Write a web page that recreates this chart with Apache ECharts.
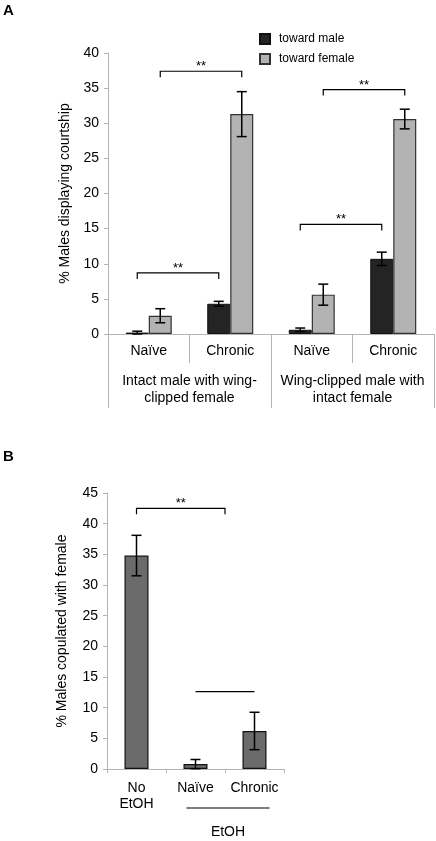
<!DOCTYPE html>
<html>
<head>
<meta charset="utf-8">
<script src="https://cdn.jsdelivr.net/npm/echarts@6/dist/echarts.min.js"></script>
<style>html,body{margin:0;padding:0;background:#fff;}#c{width:436px;height:841px;}</style>
</head>
<body>
<div id="c"></div>
<script>
// ---------- Panel A data ----------
const subCatsA = ['Naïve', 'Chronic', 'Naïve', 'Chronic'];
const groupCatsA = ['Intact male with wing-\nclipped female', 'Wing-clipped male with\nintact female'];
const maleA = [0.2, 4.3, 0.6, 10.7];
const maleErrA = [0.2, 0.35, 0.25, 0.95];
const femaleA = [2.6, 31.3, 5.6, 30.6];
const femaleErrA = [1.0, 3.2, 1.5, 1.4];
// [fromCategory, fromSeries(0 male / 1 female), toCategory, toSeries, y, label]
const bracketsA = [
  [0, 0, 1, 0, 8.7, '**'],
  [0, 1, 1, 1, 37.4, '**'],
  [2, 0, 3, 0, 15.6, '**'],
  [2, 1, 3, 1, 34.8, '**']
];
// ---------- Panel B data ----------
const catsB = ['No\nEtOH', 'Naïve', 'Chronic'];
const valuesB = [34.8, 0.8, 6.2];
const errB = [3.3, 0.75, 3.05];
// [fromCategoryPos, toCategoryPos, y, label, hasEndTicks]
const bracketsB = [
  [0, 1.5, 42.5, '**', 1],
  [1, 2, 12.6, '', 0]
];
// [fromCategory, toCategory, label]
const groupB = [[1, 2, 'EtOH']];

const FONT = 'Liberation Sans, Arial, sans-serif';
const AX = '#b4b4b4';
const BW_A = 23, BW_B = 24;

function catX(api, v) {
  const a = Math.floor(v), b = Math.ceil(v);
  const xa = api.coord([a, 0])[0];
  if (a === b) return xa;
  const xb = api.coord([b, 0])[0];
  return xa + (xb - xa) * (v - a);
}

function errRender(offset) {
  return function (params, api) {
    const x = api.coord([api.value(0), 0])[0] + offset;
    const v = api.value(1), e = api.value(2);
    const yHi = api.coord([api.value(0), v + e])[1];
    const yLo = api.coord([api.value(0), Math.max(0, v - e)])[1];
    const st = { stroke: '#000', lineWidth: 1.5 };
    return { type: 'group', children: [
      { type: 'line', shape: { x1: x, y1: yHi, x2: x, y2: yLo }, style: st },
      { type: 'line', shape: { x1: x - 5, y1: yHi, x2: x + 5, y2: yHi }, style: st },
      { type: 'line', shape: { x1: x - 5, y1: yLo, x2: x + 5, y2: yLo }, style: st }
    ]};
  };
}

function starText(x, y, txt) {
  return { type: 'text', x: x, y: y + 2, style: { text: txt, fontSize: 13, fontFamily: FONT, fill: '#000', align: 'center', verticalAlign: 'bottom' } };
}

function bracketARender(params, api) {
  const x1 = api.coord([api.value(0), 0])[0] + (api.value(1) ? 1 : -1) * BW_A / 2;
  const x2 = api.coord([api.value(2), 0])[0] + (api.value(3) ? 1 : -1) * BW_A / 2;
  const y = api.coord([0, api.value(4)])[1];
  const st = { stroke: '#000', lineWidth: 1.2, fill: null };
  return { type: 'group', children: [
    { type: 'polyline', shape: { points: [[x1, y + 6], [x1, y], [x2, y], [x2, y + 6]] }, style: st },
    starText((x1 + x2) / 2, y, bracketsA[params.dataIndex][5])
  ]};
}

function bracketBRender(params, api) {
  const x1 = catX(api, api.value(0));
  const x2 = catX(api, api.value(1));
  const y = api.coord([0, api.value(2)])[1];
  const b = bracketsB[params.dataIndex];
  const st = { stroke: '#000', lineWidth: 1.2, fill: null };
  const pts = b[4] ? [[x1, y + 6], [x1, y], [x2, y], [x2, y + 6]] : [[x1, y], [x2, y]];
  const ch = [{ type: 'polyline', shape: { points: pts }, style: st }];
  if (b[3]) ch.push(starText((x1 + x2) / 2, y, b[3]));
  return { type: 'group', children: ch };
}

function groupBRender(params, api) {
  const x1 = api.coord([api.value(0), 0])[0] - 9;
  const x2 = api.coord([api.value(1), 0])[0] + 15;
  const y0 = api.coord([0, 0])[1];
  const g = groupB[params.dataIndex];
  return { type: 'group', children: [
    { type: 'line', shape: { x1: x1, y1: y0 + 39, x2: x2, y2: y0 + 39 }, style: { stroke: '#000', lineWidth: 1.2 } },
    { type: 'text', x: (x1 + x2) / 2, y: y0 + 63, style: { text: g[2], fontSize: 14, fontFamily: FONT, fill: '#000', align: 'center', verticalAlign: 'middle' } }
  ]};
}

const chart = echarts.init(document.getElementById('c'), null, { renderer: 'canvas' });
const yAxisCommon = {
  type: 'value', min: 0, interval: 5,
  axisLine: { show: true, lineStyle: { color: AX, width: 1 } },
  axisTick: { show: true, length: 4, lineStyle: { color: AX } },
  axisLabel: { fontSize: 14, color: '#000', fontFamily: FONT, margin: 9 },
  splitLine: { show: false },
  nameLocation: 'middle',
  nameTextStyle: { fontSize: 14, color: '#000', fontFamily: FONT }
};

chart.setOption({
  animation: false,
  backgroundColor: '#fff',
  textStyle: { fontFamily: FONT },
  title: [
    { text: 'A', left: 3, top: 3, padding: 0, textStyle: { fontSize: 15, fontWeight: 'bold', color: '#000', fontFamily: FONT } },
    { text: 'B', left: 3, top: 449, padding: 0, textStyle: { fontSize: 15, fontWeight: 'bold', color: '#000', fontFamily: FONT } }
  ],
  legend: {
    data: ['toward male', 'toward female'],
    orient: 'vertical', left: 259, top: 33, padding: 0,
    itemWidth: 10, itemHeight: 10, itemGap: 8, icon: 'rect',
    textStyle: { fontSize: 12, color: '#000', fontFamily: FONT, padding: [0, 0, 0, 4] }
  },
  grid: [
    { left: 108, top: 53, width: 326, height: 281 },
    { left: 107, top: 493, width: 177, height: 276 }
  ],
  xAxis: [
    { gridIndex: 0, type: 'category', data: subCatsA, position: 'bottom', offset: 0,
      axisLine: { lineStyle: { color: AX } },
      axisTick: { show: true, length: 29, interval: 0, lineStyle: { color: AX } },
      axisLabel: { fontSize: 14, color: '#000', fontFamily: FONT, margin: 10, interval: 0 } },
    { gridIndex: 0, type: 'category', data: groupCatsA, position: 'bottom', offset: 0,
      axisLine: { show: false },
      axisTick: { show: true, length: 74, interval: 0, lineStyle: { color: AX } },
      axisLabel: { fontSize: 14, color: '#000', fontFamily: FONT, margin: 39, lineHeight: 17, interval: 0 } },
    { gridIndex: 1, type: 'category', data: catsB, position: 'bottom',
      axisLine: { lineStyle: { color: AX } },
      axisTick: { show: true, length: 4, interval: 0, lineStyle: { color: AX } },
      axisLabel: { fontSize: 14, color: '#000', fontFamily: FONT, margin: 11, lineHeight: 16, interval: 0 } }
  ],
  yAxis: [
    Object.assign({}, yAxisCommon, { gridIndex: 0, max: 40, name: '% Males displaying courtship', nameGap: 34 }),
    Object.assign({}, yAxisCommon, { gridIndex: 1, max: 45, name: '% Males copulated with female', nameGap: 38 })
  ],
  series: [
    { name: 'toward male', type: 'bar', xAxisIndex: 0, yAxisIndex: 0, data: maleA, barWidth: BW_A, barGap: '0%',
      itemStyle: { color: '#242424', borderColor: '#111', borderWidth: 1 } },
    { name: 'toward female', type: 'bar', xAxisIndex: 0, yAxisIndex: 0, data: femaleA, barWidth: BW_A, barGap: '0%',
      itemStyle: { color: '#b3b3b3', borderColor: '#333', borderWidth: 1.2 } },
    { name: 'errMale', type: 'custom', xAxisIndex: 0, yAxisIndex: 0, renderItem: errRender(-BW_A / 2),
      data: maleA.map((v, i) => [i, v, maleErrA[i]]), z: 5 },
    { name: 'errFemale', type: 'custom', xAxisIndex: 0, yAxisIndex: 0, renderItem: errRender(BW_A / 2),
      data: femaleA.map((v, i) => [i, v, femaleErrA[i]]), z: 5 },
    { name: 'bracketsA', type: 'custom', xAxisIndex: 0, yAxisIndex: 0, renderItem: bracketARender,
      data: bracketsA.map(b => [b[0], b[1], b[2], b[3], b[4]]), z: 5 },
    { name: 'copulated', type: 'bar', xAxisIndex: 2, yAxisIndex: 1, data: valuesB, barWidth: BW_B,
      itemStyle: { color: '#6b6b6b', borderColor: '#111', borderWidth: 1.2 } },
    { name: 'errB', type: 'custom', xAxisIndex: 2, yAxisIndex: 1, renderItem: errRender(0),
      data: valuesB.map((v, i) => [i, v, errB[i]]), z: 5 },
    { name: 'bracketsB', type: 'custom', xAxisIndex: 2, yAxisIndex: 1, renderItem: bracketBRender,
      data: bracketsB.map(b => [b[0], b[1], b[2]]), z: 5 },
    { name: 'groupB', type: 'custom', xAxisIndex: 2, yAxisIndex: 1, renderItem: groupBRender, clip: false,
      data: groupB.map(g => [g[0], g[1]]), z: 5 }
  ]
});
</script>
</body>
</html>
